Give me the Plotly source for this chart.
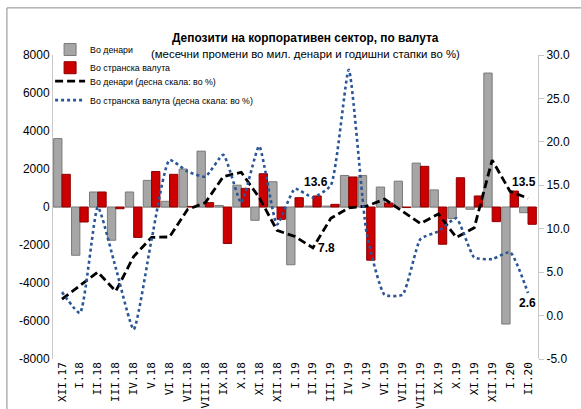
import plotly.graph_objects as go

categories = ["XII.17", "I.18", "II.18", "III.18", "IV.18", "V.18", "VI.18", "VII.18",
              "VIII.18", "IX.18", "X.18", "XI.18", "XII.18", "I.19", "II.19", "III.19",
              "IV.19", "V.19", "VI.19", "VII.19", "VIII.19", "IX.19", "X.19", "XI.19",
              "XII.19", "I.20", "II.20"]

# monthly changes, mln denars (left axis)
denars_change = [3600, -2540, 790, -1750, 790, 1400, 300, 2000, 2940, 80, 1150, -700, 1330,
                 -3040, 50, 50, 1660, 1660, 1050, 1360, 2310, 900, -600, -120, 7050, -6160, -300]
foreign_change = [1720, -790, 790, -90, -1600, 1870, 1720, 30, 230, -1920, 980, 1750, -650,
                  490, 580, 140, 1580, -2800, 210, -30, 2140, -1960, 1540, 580, -770, 840, -910]

# annual growth rates, % (right axis)
denars_pct = [1.9, 3.5, 5.0, 2.8, 6.8, 9.0, 9.05, 12.2, 13.0, 16.0, 16.5, 13.6, 9.8, 9.1,
              7.8, 11.2, 12.4, 12.6, 13.4, 12.0, 10.6, 11.7, 9.0, 10.1, 17.9, 14.3, 13.5]
foreign_pct = [2.7, 0.3, 12.5, 5.5, -1.6, 8.75, 17.9, 16.6, 16.0, 18.5, 13.0, 19.5, 10.5,
               14.6, 13.6, 15.0, 28.3, 9.5, 2.4, 2.4, 8.8, 9.7, 11.2, 6.7, 6.5, 7.3, 2.6]

left_ticks = [8000, 6000, 4000, 2000, 0, -2000, -4000, -6000, -8000]
right_ticks = [30.0, 25.0, 20.0, 15.0, 10.0, 5.0, 0.0, -5.0]

names = ["Во денари", "Во странска валута",
         "Во денари (десна скала: во %)", "Во странска валута (десна скала: во %)"]

SANS = "Liberation Sans, Arial, sans-serif"

fig = go.Figure()
fig.add_trace(go.Bar(x=categories, y=denars_change, name=names[0], legend="legend",
                     marker=dict(color="#a6a6a6", line=dict(color="#7a7a7a", width=1))))
fig.add_trace(go.Bar(x=categories, y=foreign_change, name=names[1], legend="legend2",
                     marker=dict(color="#cc0000", line=dict(color="#8c0000", width=1))))
fig.add_trace(go.Scatter(x=categories, y=denars_pct, name=names[2], yaxis="y2", mode="lines",
                         legend="legend3",
                         line=dict(color="black", width=2.8, dash="8px,4px")))
fig.add_trace(go.Scatter(x=categories, y=foreign_pct, name=names[3], yaxis="y2", mode="lines",
                         legend="legend4",
                         line=dict(color="#2a5696", width=2.6, dash="dot", shape="spline",
                                   smoothing=0.5)))

lab_font = dict(family=SANS, size=12, color="black")
ann = [
    (14, foreign_pct, 3, 15),
    (14, denars_pct, 14, 0),
    (26, denars_pct, -4, 16),
    (26, foreign_pct, -1, -10),
]
for i, arr, xs, ys in ann:
    fig.add_annotation(x=categories[i], y=arr[i], yref="y2", xref="x",
                       text="<b>%.1f</b>" % arr[i], showarrow=False,
                       xshift=xs, yshift=ys, font=lab_font)

fig.add_annotation(x=0.5196, y=1.0855, xref="paper", yref="paper",
                   text="<b>Депозити на корпоративен сектор, по валута</b>",
                   showarrow=False, font=dict(family=SANS, size=11.9, color="black"))
fig.add_annotation(x=0.5196, y=1.0296, xref="paper", yref="paper",
                   text="(месечни промени во мил. денари и годишни стапки во %)",
                   showarrow=False, font=dict(family=SANS, size=11.4, color="black"))

# outer frame (top and left edges visible)
fig.add_shape(type="rect", xref="paper", yref="paper", x0=-0.095, x1=1.3, y0=-0.3, y1=1.155,
              line=dict(color="#8a8a8a", width=1), fillcolor="rgba(0,0,0,0)", layer="above")

legend_common = dict(x=-0.006, xanchor="left", yanchor="top", bgcolor="rgba(0,0,0,0)",
                     font=dict(family=SANS, size=8.8, color="black"), traceorder="normal")

fig.update_layout(
    width=581, height=409,
    margin=dict(l=53, r=43, t=55, b=50, autoexpand=False),
    paper_bgcolor="white", plot_bgcolor="white",
    barmode="group", bargap=0.07, bargroupgap=0,
    showlegend=True,
    legend=dict(y=1.0658, **legend_common),
    legend2=dict(y=1.0059, **legend_common),
    legend3=dict(y=0.9618, **legend_common),
    legend4=dict(y=0.8993, **legend_common),
    xaxis=dict(type="category", tickmode="array", tickvals=categories, ticktext=categories,
               tickangle=-90, showgrid=False, showline=False, automargin=False,
               ticks="", tickfont=dict(family="DejaVu Sans Mono", size=11, color="black")),
    yaxis=dict(range=[-8000, 8000], tickvals=left_ticks, ticktext=[str(v) for v in left_ticks],
               showgrid=False, showline=True, linecolor="#c8c8c8", linewidth=1, automargin=False,
               zeroline=True, zerolinecolor="#d0d0d0", zerolinewidth=1, ticks="",
               tickfont=dict(family=SANS, size=12, color="black")),
    yaxis2=dict(range=[-5, 30], tickvals=right_ticks, ticktext=["%.1f" % v for v in right_ticks],
                overlaying="y", side="right", showgrid=False, zeroline=False, automargin=False,
                showline=True, linecolor="#c8c8c8", linewidth=1,
                ticks="outside", ticklen=5, tickcolor="#c8c8c8",
                tickfont=dict(family=SANS, size=12, color="black")),
)

fig.write_html("out.html", config={"displayModeBar": False},
               post_script="document.body.style.margin='0';document.body.style.padding='0';")
